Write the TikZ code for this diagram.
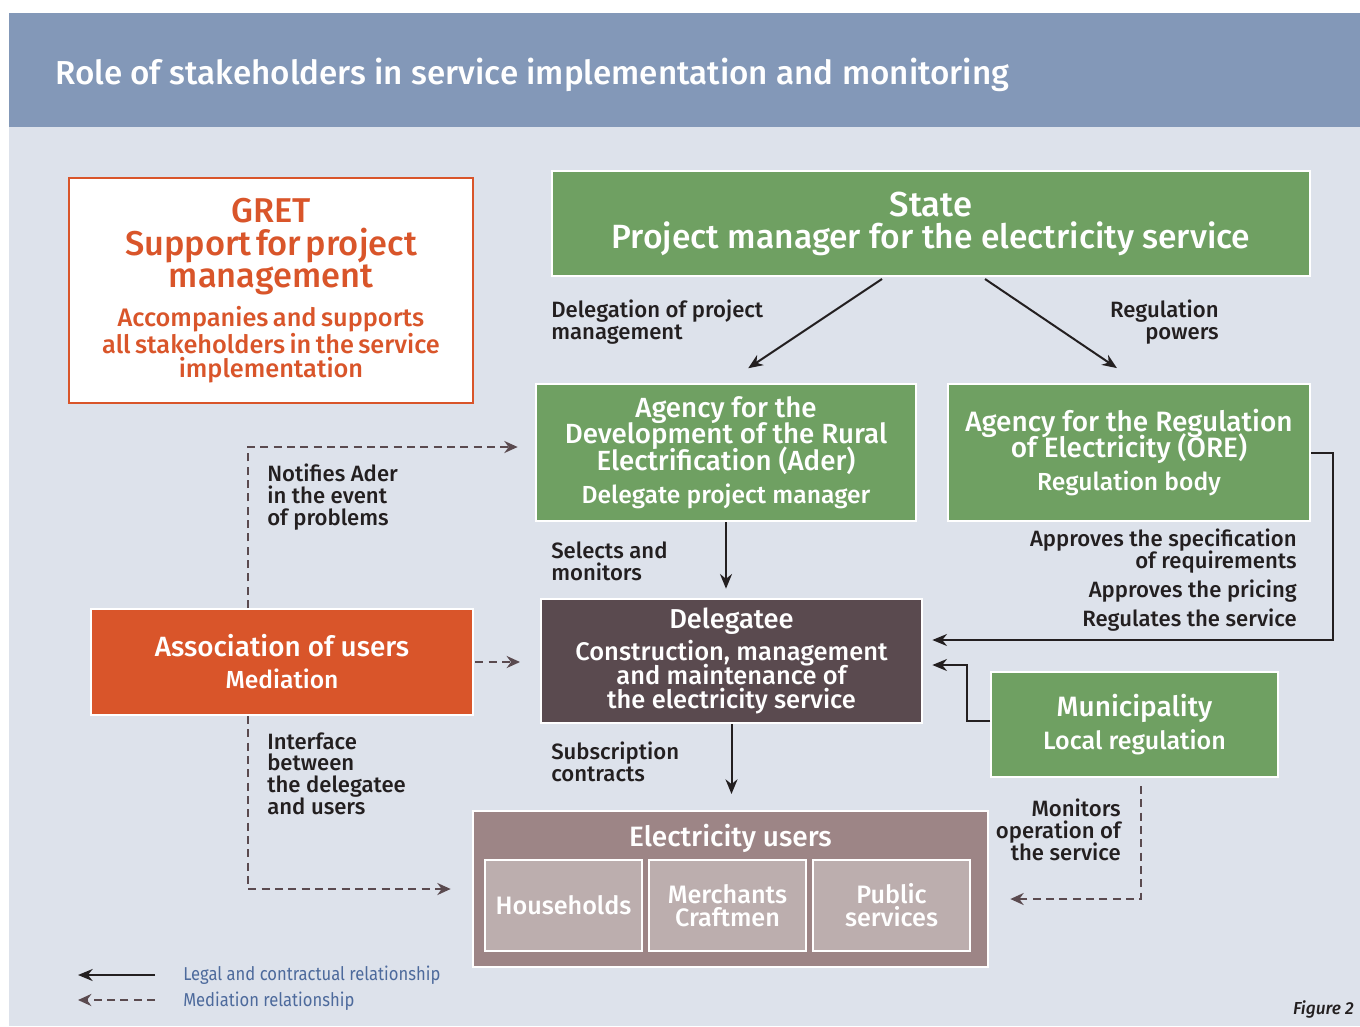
\documentclass[tikz,border=0pt]{standalone}
\usepackage{fontspec}
\setmainfont{Fira Sans Medium}
\newfontfamily\legendfont[FakeStretch=0.89]{Fira Sans}
\usetikzlibrary{arrows.meta,calc,positioning}
\definecolor{headblue}{HTML}{8398B8}
\definecolor{panel}{HTML}{DDE2EB}
\definecolor{boxgreen}{HTML}{6FA062}
\definecolor{gretorange}{HTML}{D9552A}
\definecolor{delegbrown}{HTML}{5A4A4F}
\definecolor{userbrown}{HTML}{9D8586}
\definecolor{userlight}{HTML}{BCAEAE}
\definecolor{ink}{HTML}{231F20}
\definecolor{legendblue}{HTML}{4D6A9C}
\lineskiplimit=-20pt
\begin{document}
\begin{tikzpicture}
[x=0.75pt, y=-0.75pt,
 box/.style={draw=white, line width=1.5pt, align=center, text=white, inner sep=0pt},
 greenbox/.style={box, fill=boxgreen, font=\fontsize{20.8}{19.8}\selectfont},
 userbox/.style={box, fill=userlight, minimum width=117.75pt, minimum height=68.25pt, font=\fontsize{18.9}{17.25}\selectfont},
 note/.style={align=left, text=ink, inner sep=0pt, font=\fontsize{16.6}{16.3}\selectfont},
 legal/.style={draw=ink, line width=1.5pt, -{Stealth[length=11pt,width=9pt]}},
 mediation/.style={draw=delegbrown, line width=1.8pt, dash pattern=on 6pt off 4pt, -{Stealth[length=10pt,width=9pt]}}]
\useasboundingbox (0,0) rectangle (1360,1026);
\fill[white] (0,0) rectangle (1360,1026);
\fill[panel] (9,127) rectangle (1360,1026);
\fill[headblue] (9,13) rectangle (1360,127);
\node[anchor=west, text=white, inner sep=0pt, font=\fontsize{24.9}{24}\selectfont] (title) at (55,75) {Role of stakeholders in service implementation and monitoring};

% boxes
\node[box, fill=white, draw=gretorange, line width=1.8pt, text=gretorange, minimum width=303pt, minimum height=168.75pt, text width=298pt] (gret) at (271,290.5)
  {{\fontsize{25.8}{24.4}\selectfont GRET\\Support for project\\management\par}\vspace{7pt}{\fontsize{19}{18}\selectfont Accompanies and supports\\all stakeholders in the service\\implementation\par}};
\node[greenbox, font=\fontsize{25.2}{24}\selectfont, minimum width=568.5pt, minimum height=78.75pt] (state) at (931,223.5) {{\fontsize{26}{24}\selectfont State}\\Project manager for the electricity service};
\node[greenbox, minimum width=285pt, minimum height=102.75pt] (ader) at (726,452.5) {Agency for the\\Development of the Rural\\Electrification (Ader)\\[5pt]{\fontsize{18.5}{19}\selectfont Delegate project manager}};
\node[greenbox, font=\fontsize{21}{19.5}\selectfont, minimum width=271.5pt, minimum height=102.75pt] (ore) at (1129,452.5) {Agency for the Regulation\\of Electricity (ORE)\\[5.25pt]{\fontsize{18.5}{19}\selectfont Regulation body}};
\node[box, fill=delegbrown, font=\fontsize{19.1}{18}\selectfont, minimum width=285.75pt, minimum height=93pt] (deleg) at (731.5,661) {{\fontsize{20.5}{20}\selectfont Delegatee}\\[6pt]Construction, management\\and maintenance of\\the electricity service};
\node[box, fill=gretorange, font=\fontsize{20.9}{24}\selectfont, minimum width=286.5pt, minimum height=79.5pt] (assoc) at (282,662) {Association of users\\{\fontsize{18.5}{24}\selectfont Mediation}};
\node[greenbox, font=\fontsize{21}{24.75}\selectfont, minimum width=215.25pt, minimum height=78.75pt] (muni) at (1134.5,724.5) {Municipality\\{\fontsize{18.8}{24.5}\selectfont Local regulation}};
\node[box, fill=userbrown, minimum width=386.25pt, minimum height=117pt] (users) at (730.5,889) {};
\node[text=white, inner sep=0pt, font=\fontsize{21}{20}\selectfont] (userstitle) at (730.5,838) {Electricity users};
\node[userbox] (house) at (563.5,905.5) {Households};
\node[userbox] (merch) at (727.5,905.5) {Merchants\\Craftmen};
\node[userbox] (public) at (891.5,905.5) {Public\\services};

% legal and contractual links
\draw[legal, shorten >=20pt] ($(state.south)+(-49,2)$) -- (ader.north);
\draw[legal, shorten >=20pt] ($(state.south)+(54,2)$) -- ($(ore.north)+(10,0)$);
\draw[legal, shorten >=7pt] (ader.south) -- (ader.south |- deleg.north);
\draw[legal, shorten >=12pt] (deleg.south) -- (deleg.south |- users.north);
\draw[legal, shorten >=7pt] (ore.east) -- ++(22,0) |- ($(deleg.east)+(0,-21)$);
\draw[legal, shorten >=7pt] ($(muni.west)+(0,-4)$) -- ++(-23,0) |- ($(deleg.east)+(0,4)$);

% mediation links
\draw[mediation, shorten >=13pt] ($(assoc.north)+(-34,0)$) |- ($(ader.west)+(0,-5.5)$);
\draw[mediation, shorten <=1pt, shorten >=15pt] (assoc.east) -- (assoc.east -| deleg.west);
\draw[mediation, shorten >=16pt] ($(assoc.south)+(-34,0)$) |- (users.west);
\draw[mediation, shorten <=6pt, shorten >=16pt] ($(muni.south)+(6.5,0)$) |- ($(users.east)+(0,10)$);

% labels
\node[note, anchor=west] (dpm) at (551,322) {Delegation of project\\management};
\node[note, anchor=east, align=right] (regp) at (1219,322) {Regulation\\powers};
\node[note, anchor=west] (notif) at (267,497) {Notifies Ader\\in the event\\of problems};
\node[note, anchor=west] (selm) at (551,561) {Selects and\\monitors};
\node[note, anchor=east, align=right] (appr) at (1297,580) {Approves the specification\\of requirements\\[5.25pt]Approves the pricing\\[5.25pt]Regulates the service};
\node[note, anchor=west] (iface) at (267,773.5) {Interface\\between\\the delegatee\\and users};
\node[note, anchor=west] (subs) at (551,762) {Subscription\\contracts};
\node[note, anchor=east, align=right] (monit) at (1121,830) {Monitors\\operation of\\the service};

% legend
\coordinate (leg1s) at (155,975);
\coordinate (leg1e) at (78,975);
\coordinate (leg2s) at (155,1000);
\coordinate (leg2e) at (78,1000);
\draw[legal] (leg1s) -- (leg1e);
\draw[mediation] (leg2s) -- (leg2e);
\node[anchor=west, text=legendblue, inner sep=0pt, font=\legendfont\fontsize{14}{14}\selectfont] (leg1) at (183,975) {Legal and contractual relationship};
\node[anchor=west, text=legendblue, inner sep=0pt, font=\legendfont\fontsize{14}{14}\selectfont] (leg2) at (183,1001) {Mediation relationship};
\node[anchor=east, text=ink, inner sep=0pt, font=\itshape\fontsize{13}{13}\selectfont] (fig) at (1354,1009) {Figure 2};
\end{tikzpicture}
\end{document}
